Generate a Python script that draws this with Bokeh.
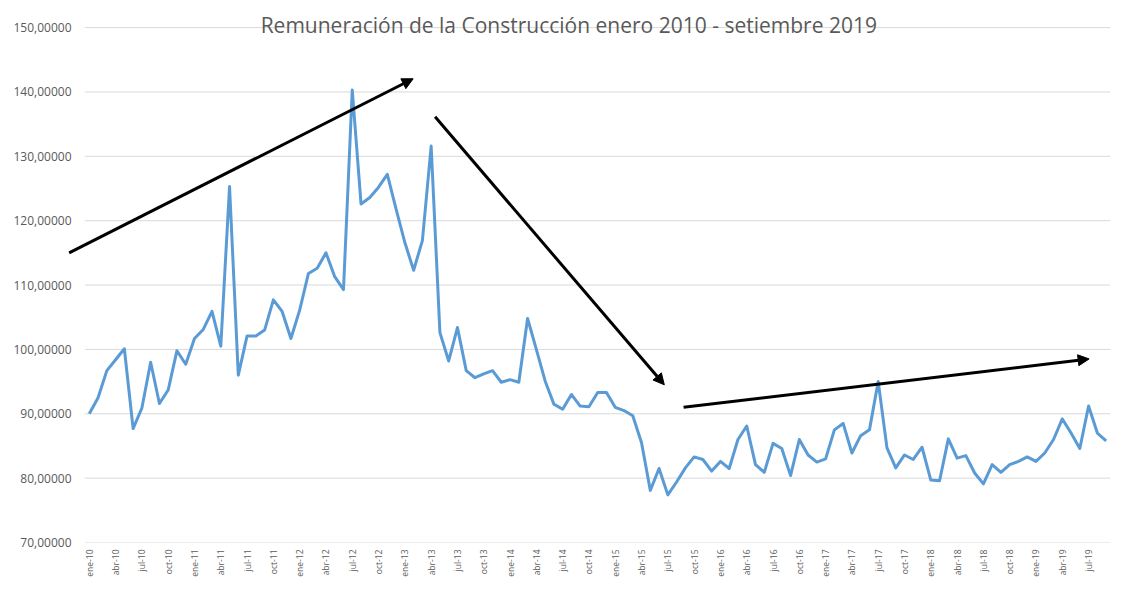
import numpy as np
from bokeh.plotting import figure
from bokeh.models import Range1d, FixedTicker, Arrow, NormalHead, Label, ColumnDataSource
from bokeh.embed import file_html
from bokeh.resources import INLINE
from math import pi

# ---- data ----
values = [
    90.0, 92.5, 96.7, 98.4, 100.1, 87.7, 90.9, 98.0, 91.6, 93.7, 99.8, 97.7,      # 2010
    101.7, 103.1, 105.9, 100.5, 125.3, 96.0, 102.1, 102.1, 103.0, 107.7, 105.9, 101.7,  # 2011
    106.1, 111.8, 112.6, 115.0, 111.3, 109.3, 140.3, 122.6, 123.6, 125.2, 127.2, 121.8,  # 2012
    116.6, 112.3, 116.9, 131.6, 102.6, 98.2, 103.4, 96.7, 95.6, 96.2, 96.7, 94.9,   # 2013
    95.3, 94.9, 104.8, 100.0, 95.1, 91.5, 90.7, 93.0, 91.2, 91.1, 93.3, 93.3,       # 2014
    91.0, 90.5, 89.7, 85.5, 78.1, 81.5, 77.4, 79.4, 81.6, 83.3, 82.9, 81.1,         # 2015
    82.6, 81.5, 86.0, 88.1, 82.1, 80.9, 85.4, 84.6, 80.4, 86.0, 83.6, 82.5,         # 2016
    83.0, 87.5, 88.5, 83.9, 86.6, 87.5, 95.0, 84.7, 81.6, 83.6, 82.9, 84.8,         # 2017
    79.7, 79.6, 86.1, 83.1, 83.5, 80.8, 79.1, 82.1, 80.9, 82.1, 82.6, 83.3,         # 2018
    82.6, 83.9, 86.0, 89.2, 87.0, 84.6, 91.2, 87.0, 85.8,                           # 2019
]
months = ["ene", "feb", "mar", "abr", "may", "jun", "jul", "ago", "sep", "oct", "nov", "dic"]
period_labels = [f"{months[i % 12]}-{10 + i // 12}" for i in range(len(values))]
y_ticks = [70, 80, 90, 100, 110, 120, 130, 140, 150]
y_tick_labels = [f"{t},00000" for t in y_ticks]

title_text = "Remuneración de la Construcción enero 2010 - setiembre 2019"

# trend arrows (data units: month index, value)
arrow_starts = [(-2.3, 115.0), (39.45, 136.15), (67.8, 91.0)]
arrow_ends = [(36.95, 142.05), (65.6, 94.5), (114.06, 98.52)]

# ---- figure ----
n = len(values)
x = list(range(n))
src = ColumnDataSource(dict(x=x, y=values))

p = figure(width=1117, height=586, output_backend="svg", toolbar_location=None,
           x_range=Range1d(-2.6, n - 0.5), y_range=Range1d(70, 152.5),
           min_border_left=66, min_border_right=7, min_border_top=11, min_border_bottom=44)
p.outline_line_color = None
p.background_fill_color = "white"
p.border_fill_color = "white"

# horizontal gridlines spanning the category area only
p.segment(x0=[-0.5] * len(y_ticks), x1=[n - 0.5] * len(y_ticks), y0=y_ticks, y1=y_ticks,
          line_color="#D9D9D9", line_width=1)

p.line("x", "y", source=src, line_color="#5B9BD5", line_width=3, line_join="round")

# axes
tick_idx = list(range(0, n, 3))
p.xaxis.ticker = FixedTicker(ticks=tick_idx)
p.xaxis.major_label_overrides = {i: period_labels[i] for i in tick_idx}
p.xaxis.major_label_orientation = pi / 2
p.xaxis.major_label_text_font = "Open Sans"
p.xaxis.major_label_text_font_size = "8.5px"
p.xaxis.major_label_text_color = "#595959"
p.xaxis.major_label_standoff = 7
p.xaxis.major_tick_out = 0
p.xaxis.major_tick_in = 0
p.xaxis.major_tick_line_color = None
p.xaxis.minor_tick_line_color = None
p.xaxis.axis_line_color = None

p.yaxis.ticker = FixedTicker(ticks=y_ticks)
p.yaxis.major_label_overrides = {t: l for t, l in zip(y_ticks, y_tick_labels)}
p.yaxis.major_label_text_font = "Open Sans"
p.yaxis.major_label_text_font_size = "12px"
p.yaxis.major_label_text_color = "#595959"
p.yaxis.major_label_standoff = -5
p.yaxis.major_tick_out = 0
p.yaxis.major_tick_in = 0
p.yaxis.major_tick_line_color = None
p.yaxis.minor_tick_line_color = None
p.yaxis.axis_line_color = None

p.xgrid.grid_line_color = None
p.ygrid.grid_line_color = None

# title drawn over the plot like the original
p.add_layout(Label(x=54.7, y=150.4, text=title_text, text_align="center",
                   text_baseline="alphabetic", text_font="Open Sans",
                   text_font_size="21px", text_color="#595959"))

for (x0, y0), (x1, y1) in zip(arrow_starts, arrow_ends):
    p.add_layout(Arrow(x_start=x0, y_start=y0, x_end=x1, y_end=y1,
                       line_color="black", line_width=3,
                       end=NormalHead(size=11, fill_color="black", line_color="black", line_width=1)))

open("out.html", "w").write(file_html(p, INLINE))
